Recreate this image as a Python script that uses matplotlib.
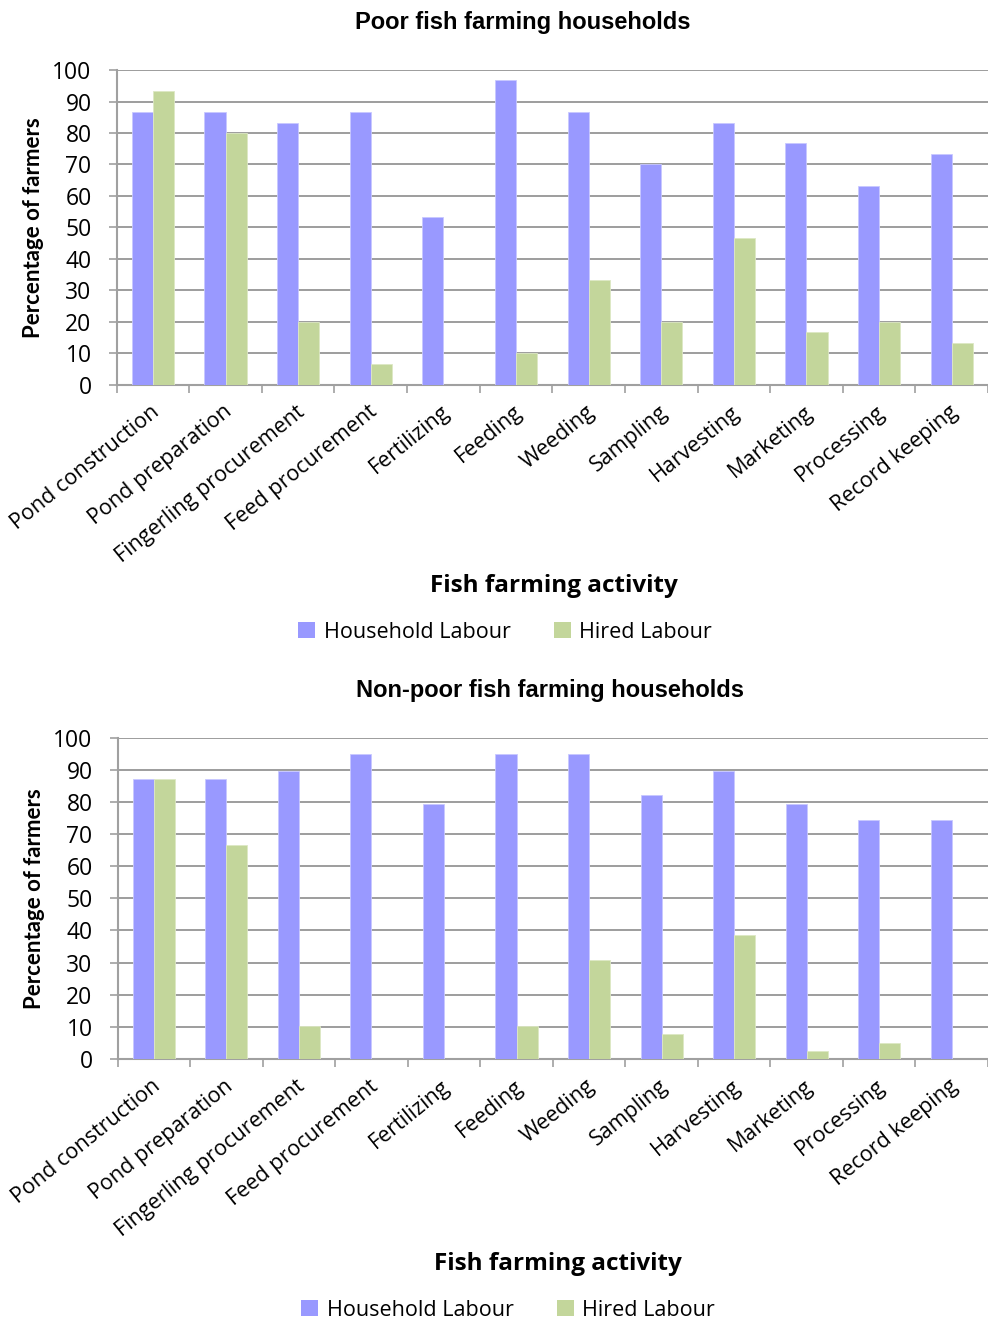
import matplotlib
matplotlib.use("Agg")
from matplotlib import pyplot as plt
from matplotlib.patches import Patch
import numpy as np

activities = ["Pond construction", "Pond preparation", "Fingerling procurement",
              "Feed procurement", "Fertilizing", "Feeding", "Weeding", "Sampling",
              "Harvesting", "Marketing", "Processing", "Record keeping"]

poorHousehold = [86.7, 86.7, 83.3, 86.7, 53.3, 96.7, 86.7, 70.0, 83.3, 76.7, 63.3, 73.3]
poorHired = [93.3, 80.0, 20.0, 6.7, 0.0, 10.0, 33.3, 20.0, 46.7, 16.7, 20.0, 13.3]

nonPoorHousehold = [87.2, 87.2, 89.7, 94.9, 79.5, 94.9, 94.9, 82.1, 89.7, 79.5, 74.4, 74.4]
nonPoorHired = [87.2, 66.7, 10.3, 0.0, 0.0, 10.3, 30.8, 7.7, 38.5, 2.6, 5.1, 0.0]

householdColor = "#9999FF"
hiredColor = "#C3D69B"
gridColor = "#8C8C8C"
labelFont = "Open Sans"


def DrawPanel(fig, rect, title, household, hired, titleX, titleY, xlabelX, xlabelY, legendX, legendY):
    ax = fig.add_axes(rect)
    x = np.arange(len(activities))
    w = 0.29
    ax.bar(x - w / 2, household, w, color=householdColor, edgecolor="#C8C8FF", linewidth=0.6, zorder=3)
    ax.bar(x + w / 2, hired, w, color=hiredColor, edgecolor="#DDE8C4", linewidth=0.6, zorder=3)

    ax.set_xlim(-0.5, len(activities) - 0.5)
    ax.set_ylim(0, 100)
    ax.set_yticks(range(0, 101, 10))
    ax.yaxis.grid(True, color=gridColor, linewidth=1.2, zorder=0)
    ax.set_axisbelow(True)
    for side in ["top", "right"]:
        ax.spines[side].set_visible(False)
    for side in ["left", "bottom"]:
        ax.spines[side].set_color("#A0A0A0")
        ax.spines[side].set_linewidth(1.5)

    # category boundaries carry the tick marks, labels sit on the centres
    ax.set_xticks(np.arange(-0.5, len(activities), 1.0))
    ax.set_xticklabels([])
    ax.set_xticks(x - 0.04, minor=True)
    ax.set_xticklabels(activities, minor=True, rotation=39, ha="right",
                       rotation_mode="anchor", fontsize=15.5, family=labelFont)
    ax.tick_params(axis="x", which="major", length=6, color="#A0A0A0", width=1.2)
    ax.tick_params(axis="x", which="minor", length=0, pad=12)
    ax.tick_params(axis="y", length=6, color="#A0A0A0", width=1.2, labelsize=16.5, pad=12)
    for lbl in ax.get_yticklabels():
        lbl.set_family(labelFont)

    ax.set_ylabel("Percentage of farmers", fontsize=16, fontweight="bold",
                  family="Lato", labelpad=6)

    fig.text(titleX, titleY, title, ha="center", va="center",
             fontsize=17, fontweight="bold", family="Liberation Sans")
    fig.text(xlabelX, xlabelY, "Fish farming activity", ha="center", va="center",
             fontsize=17.5, fontweight="bold", family=labelFont)

    handles = [Patch(facecolor=householdColor, label="Household Labour"),
               Patch(facecolor=hiredColor, label="Hired Labour")]
    fig.legend(handles=handles, loc="center", bbox_to_anchor=(legendX, legendY), ncol=2,
               frameon=False, prop={"family": labelFont, "size": 15.5},
               handlelength=0.8, handleheight=0.8, handletextpad=0.4, columnspacing=2.0)
    return ax


fig = plt.figure(figsize=(9.88, 13.22), dpi=100)

DrawPanel(fig, [0.118, 0.709, 0.882, 0.238], "Poor fish farming households",
          poorHousehold, poorHired, 523 / 988, 1 - 22 / 1322,
          554 / 988, 1 - 586 / 1322, 505 / 988, 1 - 632 / 1322)
DrawPanel(fig, [0.119, 0.199, 0.881, 0.243], "Non-poor fish farming households",
          nonPoorHousehold, nonPoorHired, 550 / 988, 1 - 690 / 1322,
          558 / 988, 1 - 1264 / 1322, 508 / 988, 1 - 1310 / 1322)

fig.savefig("out.png", dpi=100)
